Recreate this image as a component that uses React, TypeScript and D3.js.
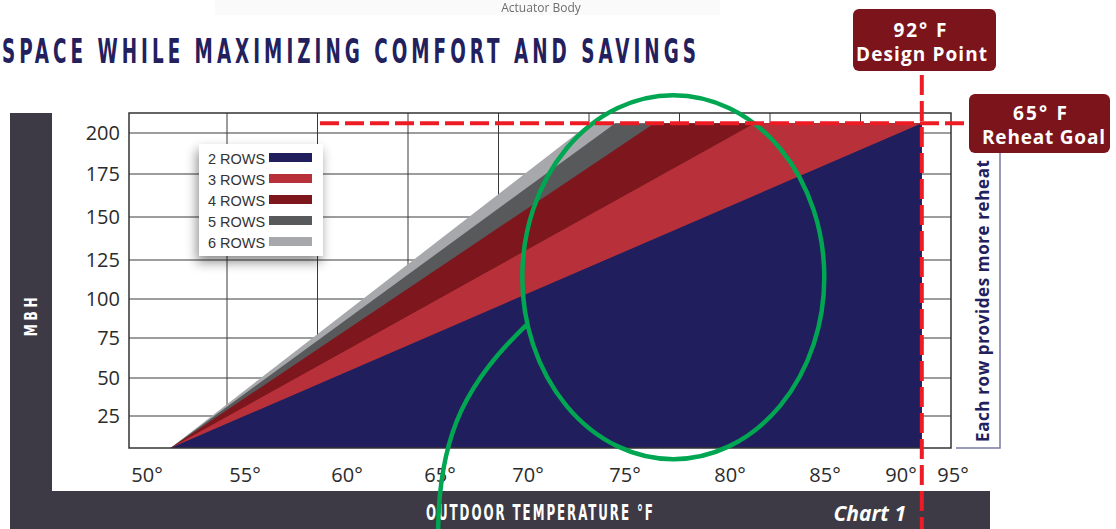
import React from "react";
import * as d3 from "d3";

// ---------- data ----------
const tempTicks = [50, 55, 60, 65, 70, 75, 80, 85, 90, 95];
const mbhTicks = [25, 50, 75, 100, 125, 150, 175, 200];
const seriesNames = ["2 ROWS", "3 ROWS", "4 ROWS", "5 ROWS", "6 ROWS"];
const seriesColors = ["#201e5c", "#b8313a", "#7d161d", "#58595b", "#a7a8ab"];
// temperature (°F) at which each coil reaches the reheat goal capacity
const capTemps = [92, 81.3, 76.4, 74.5, 73.2];
const startTemp = 51.2; // °F where reheat begins
const capMBH = 206; // 65°F reheat goal line
const designTemp = 92; // design point

const W = 1116;
const H = 529;

// hand-laid axis of the original graphic (piecewise linear)
const x = d3
  .scaleLinear()
  .domain(tempTicks)
  .range([147, 245, 347, 440, 528, 625, 730, 825, 901, 953]);
const y = d3
  .scaleLinear()
  .domain([0, ...mbhTicks])
  .range([448, 416, 378, 338, 299, 260, 217, 174, 133]);

const frameL = 129, frameR = 951, frameT = 113, frameB = 448;
const gridCol = d3.scaleLinear().domain([0, 8]).range([227, frameR]);

const area = d3
  .area<[number, number]>()
  .x((d) => x(d[0]))
  .y0(() => y(0))
  .y1((d) => y(d[1]));

const legendY = d3.scalePoint<string>().domain(seriesNames).range([158, 242]);

const sans = "'Open Sans', 'Liberation Sans', sans-serif";
const narrow = "'Liberation Sans Narrow', 'DejaVu Sans Condensed', sans-serif";

export default function App() {
  const seriesData = seriesNames.map((name, i) => ({
    name,
    color: seriesColors[i],
    pts: (capTemps[i] >= designTemp
      ? [[startTemp, 0], [designTemp, capMBH]]
      : [[startTemp, 0], [capTemps[i], capMBH], [designTemp, capMBH]]) as [number, number][],
  }));
  const drawOrder = [...seriesData].reverse();
  const xd = x(designTemp);
  const yc = y(capMBH);
  const sx = 0.6;

  return (
    <svg
      width={W}
      height={H}
      style={{ position: "absolute", left: 0, top: 0, background: "#fff" }}
    >
      <defs>
        <filter id="blur1" x="-20%" y="-50%" width="140%" height="200%">
          <feGaussianBlur stdDeviation="0.7" />
        </filter>
        <filter id="shadow" x="-30%" y="-30%" width="160%" height="170%">
          <feDropShadow dx="-2" dy="6" stdDeviation="6" floodColor="#000" floodOpacity="0.45" />
        </filter>
      </defs>

      {/* faint top strip */}
      <rect x={215} y={0} width={505} height={15} fill="#fafafa" />
      <text x={541} y={12} textAnchor="middle" fontFamily={sans} fontSize={12} fill="#6e6e6e" filter="url(#blur1)">
        Actuator Body
      </text>

      {/* title */}
      <text
        transform={`translate(2,63) scale(${sx},1)`}
        fontFamily={narrow}
        fontWeight="bold"
        fontSize={34}
        fill="#23205e"
        textLength={694 / sx}
        lengthAdjust="spacing"
      >
        SPACE WHILE MAXIMIZING COMFORT AND SAVINGS
      </text>

      {/* dark bars */}
      <rect x={10} y={113} width={42} height={H - 113} fill="#3d3a45" />
      <rect x={10} y={491} width={980} height={H - 491} fill="#3d3a45" />
      <text
        transform={`translate(37,315) rotate(-90) scale(0.75,1)`}
        textAnchor="middle"
        fontFamily={narrow}
        fontWeight="bold"
        fontSize={18}
        letterSpacing={5}
        fill="#fff"
      >
        MBH
      </text>
      <text
        transform={`translate(426,520) scale(${sx},1)`}
        fontFamily={narrow}
        fontWeight="bold"
        fontSize={22}
        fill="#fff"
        textLength={227 / sx}
        lengthAdjust="spacing"
      >
        OUTDOOR TEMPERATURE °F
      </text>
      <text x={906} y={521} textAnchor="end" fontFamily={sans} fontWeight="bold" fontStyle="italic" fontSize={21} fill="#fff">
        Chart 1
      </text>

      {/* grid */}
      <g stroke="#3a3a3a" strokeWidth={1}>
        {mbhTicks.map((t) => (
          <line key={t} x1={frameL} x2={frameR} y1={y(t)} y2={y(t)} />
        ))}
        {d3.range(0, 8).map((i) => (
          <line key={i} x1={gridCol(i)} x2={gridCol(i)} y1={frameT} y2={frameB} />
        ))}
      </g>

      {/* areas */}
      {drawOrder.map((s) => (
        <path key={s.name} d={area(s.pts) || ""} fill={s.color} />
      ))}

      {/* frame */}
      <rect x={frameL} y={frameT} width={frameR - frameL} height={frameB - frameT} fill="none" stroke="#333" strokeWidth={1.5} />

      {/* y tick labels */}
      {mbhTicks.map((t) => (
        <text key={t} x={120} y={y(t) + 7} textAnchor="end" fontFamily={sans} fontSize={20} fill="#2b2b2b">
          {t}
        </text>
      ))}
      {/* x tick labels */}
      {tempTicks.map((t) => (
        <text key={t} x={x(t)} y={482} textAnchor="middle" fontFamily={sans} fontSize={20} fill="#2b2b2b">
          {t}°
        </text>
      ))}

      {/* legend */}
      <g>
        <rect x={199} y={144} width={124} height={112} fill="#fff" filter="url(#shadow)" />
        {seriesData.map((s) => (
          <g key={s.name}>
            <text x={208} y={legendY(s.name)! + 5.5} fontFamily="'Liberation Sans', Arial, sans-serif" fontSize={14.5} fill="#333">
              {s.name}
            </text>
            <rect x={269} y={legendY(s.name)! - 5} width={43} height={9} fill={s.color} />
          </g>
        ))}
      </g>

      {/* green highlight */}
      <ellipse cx={x(77.3)} cy={y(114)} rx={151} ry={182} fill="none" stroke="#00a651" strokeWidth={4.5} />
      <path
        d={`M${x(69.9)},${y(83.3)} C${x(66.7)},${y(48.7)} ${x(64.9)},${y(14)} ${x(64.9)},${H + 5}`}
        fill="none"
        stroke="#00a651"
        strokeWidth={4.5}
      />

      {/* red reference lines */}
      <line x1={320} x2={969} y1={yc} y2={yc} stroke="#ed1c24" strokeWidth={4} strokeDasharray="19 6" />
      <line x1={xd} x2={xd} y1={75} y2={H} stroke="#ed1c24" strokeWidth={4} strokeDasharray="20 6" />

      {/* bracket */}
      <path d="M1000,153 L1000,448 L956,448" fill="none" stroke="#7a7aa5" strokeWidth={1.5} />
      <text
        transform="translate(989,301) rotate(-90)"
        textAnchor="middle"
        fontFamily={sans}
        fontWeight="bold"
        fontSize={17}
        fill="#23205e"
        textLength={282}
      >
        Each row provides more reheat
      </text>

      {/* annotation boxes */}
      <rect x={853} y={9} width={143} height={62} rx={6} fill="#7b141b" />
      <text x={920} y={37} textAnchor="middle" fontFamily={sans} fontWeight="bold" fontSize={19} fill="#fff" textLength={53}>
        92° F
      </text>
      <text x={921.5} y={61} textAnchor="middle" fontFamily={sans} fontWeight="bold" fontSize={19} fill="#fff" textLength={131}>
        Design Point
      </text>
      <rect x={969} y={94} width={141} height={59} rx={6} fill="#7b141b" />
      <text x={1040} y={120} textAnchor="middle" fontFamily={sans} fontWeight="bold" fontSize={19} fill="#fff" textLength={54}>
        65° F
      </text>
      <text x={1043.5} y={144} textAnchor="middle" fontFamily={sans} fontWeight="bold" fontSize={19} fill="#fff" textLength={123}>
        Reheat Goal
      </text>
    </svg>
  );
}
